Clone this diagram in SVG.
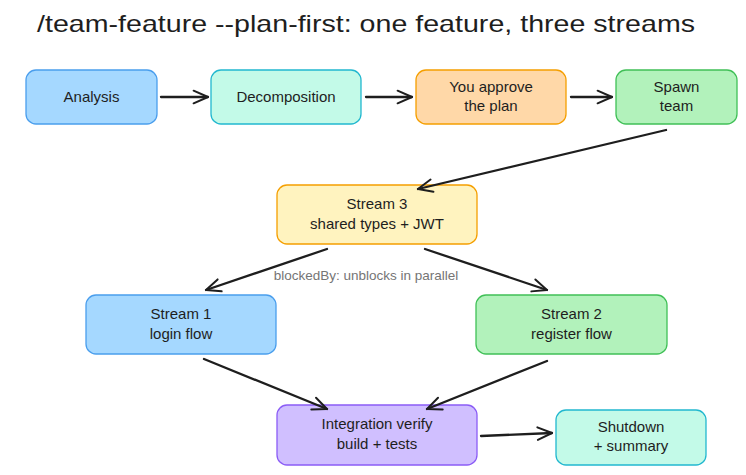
<svg xmlns="http://www.w3.org/2000/svg" width="746" height="475" viewBox="0 0 746 475">
<style>
text{font-family:"Liberation Sans","DejaVu Sans",sans-serif;fill:#1e1e1e}
.t{font-size:15px;text-anchor:middle}
.box{stroke-width:1.3}
.blue{fill:#a5d8ff;stroke:#4a9eed}
.cyan{fill:#c3fae8;stroke:#22b8cf}
.orange{fill:#ffd8a8;stroke:#f59f00}
.green{fill:#b2f2bb;stroke:#40c057}
.yellow{fill:#fff3bf;stroke:#f59f00}
.purple{fill:#d0bfff;stroke:#8b5cf6}
.arrow{fill:none;stroke:#1e1e1e;stroke-width:2.3;stroke-linecap:round;marker-end:url(#ah)}
.lbl{font-size:13.5px;text-anchor:middle;fill:#757575}
</style>
<defs>
<marker id="ah" viewBox="0 0 20 20" refX="18" refY="10" markerWidth="18" markerHeight="18" markerUnits="userSpaceOnUse" orient="auto">
<path d="M2,3 L18,10 L2,17" fill="none" stroke="#1e1e1e" stroke-width="2.2" stroke-linecap="round" stroke-linejoin="round"/>
</marker>
</defs>
<rect width="746" height="475" fill="#ffffff"/>
<text x="37" y="32" font-size="24" textLength="658" lengthAdjust="spacingAndGlyphs">/team-feature --plan-first: one feature, three streams</text>

<g id="analysis"><rect class="box blue" x="26" y="70" width="131" height="54" rx="10"/><text class="t" x="91.5" y="102">Analysis</text></g>
<g id="decomposition"><rect class="box cyan" x="211" y="70" width="150" height="54" rx="10"/><text class="t" x="286" y="102">Decomposition</text></g>
<g id="approve"><rect class="box orange" x="416" y="70" width="150" height="54" rx="10"/><text class="t" x="491" y="92">You approve</text><text class="t" x="491" y="111">the plan</text></g>
<g id="spawn"><rect class="box green" x="616" y="70" width="121" height="54" rx="10"/><text class="t" x="676.5" y="92">Spawn</text><text class="t" x="676.5" y="111">team</text></g>
<g id="stream3"><rect class="box yellow" x="277" y="185" width="200" height="59" rx="10"/><text class="t" x="377" y="209">Stream 3</text><text class="t" x="377" y="229">shared types + JWT</text></g>
<g id="stream1"><rect class="box blue" x="86" y="295" width="190" height="59" rx="10"/><text class="t" x="181" y="319">Stream 1</text><text class="t" x="181" y="339">login flow</text></g>
<g id="stream2"><rect class="box green" x="476" y="295" width="191" height="59" rx="10"/><text class="t" x="571.5" y="319">Stream 2</text><text class="t" x="571.5" y="339">register flow</text></g>
<g id="integration"><rect class="box purple" x="277" y="405" width="200" height="60" rx="10"/><text class="t" x="377" y="429">Integration verify</text><text class="t" x="377" y="449">build + tests</text></g>
<g id="shutdown"><rect class="box cyan" x="556" y="410" width="150" height="55" rx="10"/><text class="t" x="631" y="432">Shutdown</text><text class="t" x="631" y="451">+ summary</text></g>

<g id="connectors">
<path class="arrow" d="M161,97 L208,97"/>
<path class="arrow" d="M366,97 L412,97"/>
<path class="arrow" d="M571,97 L612,97"/>
<path class="arrow" d="M666,130 L418,189"/>
<path class="arrow" d="M327,249 L206,290"/>
<path class="arrow" d="M425,249 L547,290"/>
<path class="arrow" d="M204,359 L327,409"/>
<path class="arrow" d="M547,361 L427,409"/>
<path class="arrow" d="M481,436 L552,433"/>
<text class="lbl" x="366" y="280">blockedBy: unblocks in parallel</text>
</g>
</svg>
